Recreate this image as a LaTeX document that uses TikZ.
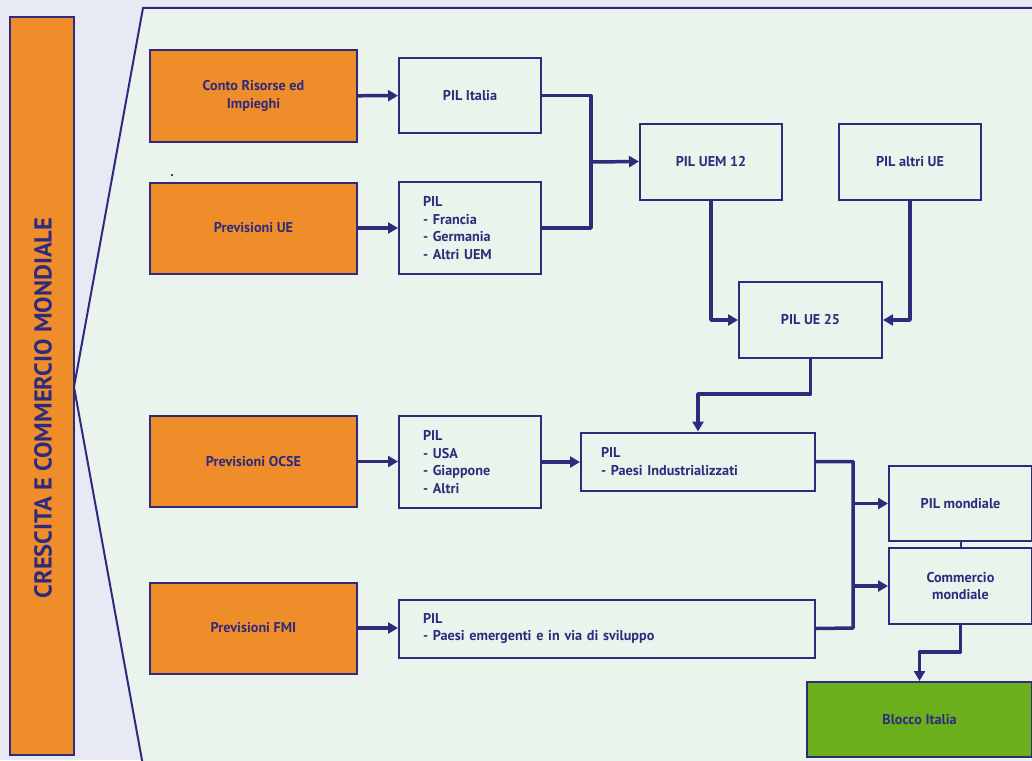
\documentclass[tikz,border=0pt]{standalone}
\usepackage{fontspec}
\setmainfont{PT Sans}
\usetikzlibrary{arrows.meta}
\definecolor{navy}{HTML}{2F2A7C}
\definecolor{outerbg}{HTML}{E7EAF4}
\definecolor{innerbg}{HTML}{EAF4EC}
\definecolor{orangebox}{HTML}{F08D2B}
\definecolor{greenbox}{HTML}{6BAF1D}
\tikzset{
  lbl/.style={font=\bfseries\fontsize{14.2}{17.6}\selectfont, text=navy},
  box/.style={lbl, draw=navy, line width=2pt, fill=innerbg, inner sep=0pt, align=center},
  srcbox/.style={box, fill=orangebox, minimum width=207pt, minimum height=91pt},
  conn/.style={draw=navy, line width=3.5pt, line join=round,
    -{Triangle[length=10pt,width=11pt]}},
  link/.style={draw=navy, line width=3.5pt, line join=round}
}
\begin{document}
\begin{tikzpicture}[x=1pt,y=-1pt]
  \useasboundingbox (0,0) rectangle (1032,760);
  \clip (0,0) rectangle (1032,760);
  % backdrop and framed panel
  \fill[outerbg] (0,0) rectangle (1032,760);
  \draw[navy, line width=2pt, fill=innerbg]
    (143,8) -- (1040,8) -- (1040,770) -- (143.8,770) -- (74,387) -- cycle;
  % side band with the title
  \node[box, fill=orangebox, minimum width=64pt, minimum height=738pt] (band) at (41.5,386) {};
  \node[lbl, font=\bfseries\fontsize{24.5}{28}\selectfont, rotate=90] (title) at (43,408)
    {CRESCITA E COMMERCIO MONDIALE};

  % sources
  \node[srcbox] (conto) at (253.5,96) {Conto Risorse ed\\Impieghi};
  \node[srcbox] (prevue) at (253.5,228) {Previsioni UE};
  \node[srcbox] (ocse) at (253.5,461.5) {Previsioni OCSE};
  \node[srcbox] (fmi) at (253.5,628) {Previsioni FMI};
  \node[lbl] (dot) at (172,176) {.};

  % PIL boxes
  \node[box, minimum width=142pt, minimum height=75pt] (italia) at (470,95.5) {PIL Italia};
  \node[box, minimum width=142pt, minimum height=92pt, text width=94pt, align=left] (euro) at (470,228)
    {PIL\\- Francia\\- Germania\\- Altri UEM};
  \node[box, minimum width=142pt, minimum height=76pt] (uem) at (711,161.5) {PIL UEM 12};
  \node[box, minimum width=142pt, minimum height=76pt] (altri) at (910,161.5) {PIL altri UE};
  \node[box, minimum width=143pt, minimum height=76pt] (ue) at (810.5,320) {PIL UE 25};
  \node[box, minimum width=142pt, minimum height=92pt, text width=94pt, align=left] (usa) at (470,462)
    {PIL\\- USA\\- Giappone\\- Altri};
  \node[box, minimum width=234pt, minimum height=58pt, text width=194pt, align=left] (ind) at (698,461.5)
    {PIL\\- Paesi Industrializzati};
  \node[box, minimum width=416pt, minimum height=58pt, text width=368pt, align=left] (emer) at (607,628.5)
    {PIL\\- Paesi emergenti e in via di sviluppo};
  \node[box, minimum width=143pt, minimum height=75pt] (pilm) at (960.5,503.5) {PIL mondiale};
  \node[box, minimum width=143pt, minimum height=76pt] (comm) at (960.5,586) {Commercio\\mondiale};
  \node[box, fill=greenbox, minimum width=225pt, minimum height=75pt] (blocco) at (919.5,719.5) {Blocco Italia};

  % junction points
  \coordinate (jeu) at (591,162);
  \coordinate (jue) at (760,394);
  \coordinate (jw) at (853,628);
  \coordinate (jc) at (940,652);

  % connectors
  \draw[conn] (conto) -- (italia);
  \draw[conn] (prevue) -- (euro);
  \draw[link] (italia.east) -| (jeu);
  \draw[link] (euro.east) -| (jeu);
  \draw[conn] (jeu) -- (uem.west);
  \draw[conn] (uem.south) |- (ue.west);
  \draw[conn] (altri.south) |- (ue.east);
  \draw[conn] (ue.south) |- (jue) -| (ind.north);
  \draw[conn] (ocse) -- (usa.west |- ocse);
  \draw[conn] (usa.east) -- (ind.west |- usa.east);
  \draw[conn] (fmi) -- (emer.west |- fmi);
  \draw[link] (ind.east) -| (jw) -- (emer.east);
  \draw[conn] (pilm.west -| jw) -- (pilm.west);
  \draw[conn] (comm.west -| jw) -- (comm.west);
  \draw[navy, line width=2pt] (pilm.south) -- (comm.north);
  \draw[conn] (comm.south) |- (jc) -| (blocco.north);
\end{tikzpicture}
\end{document}
